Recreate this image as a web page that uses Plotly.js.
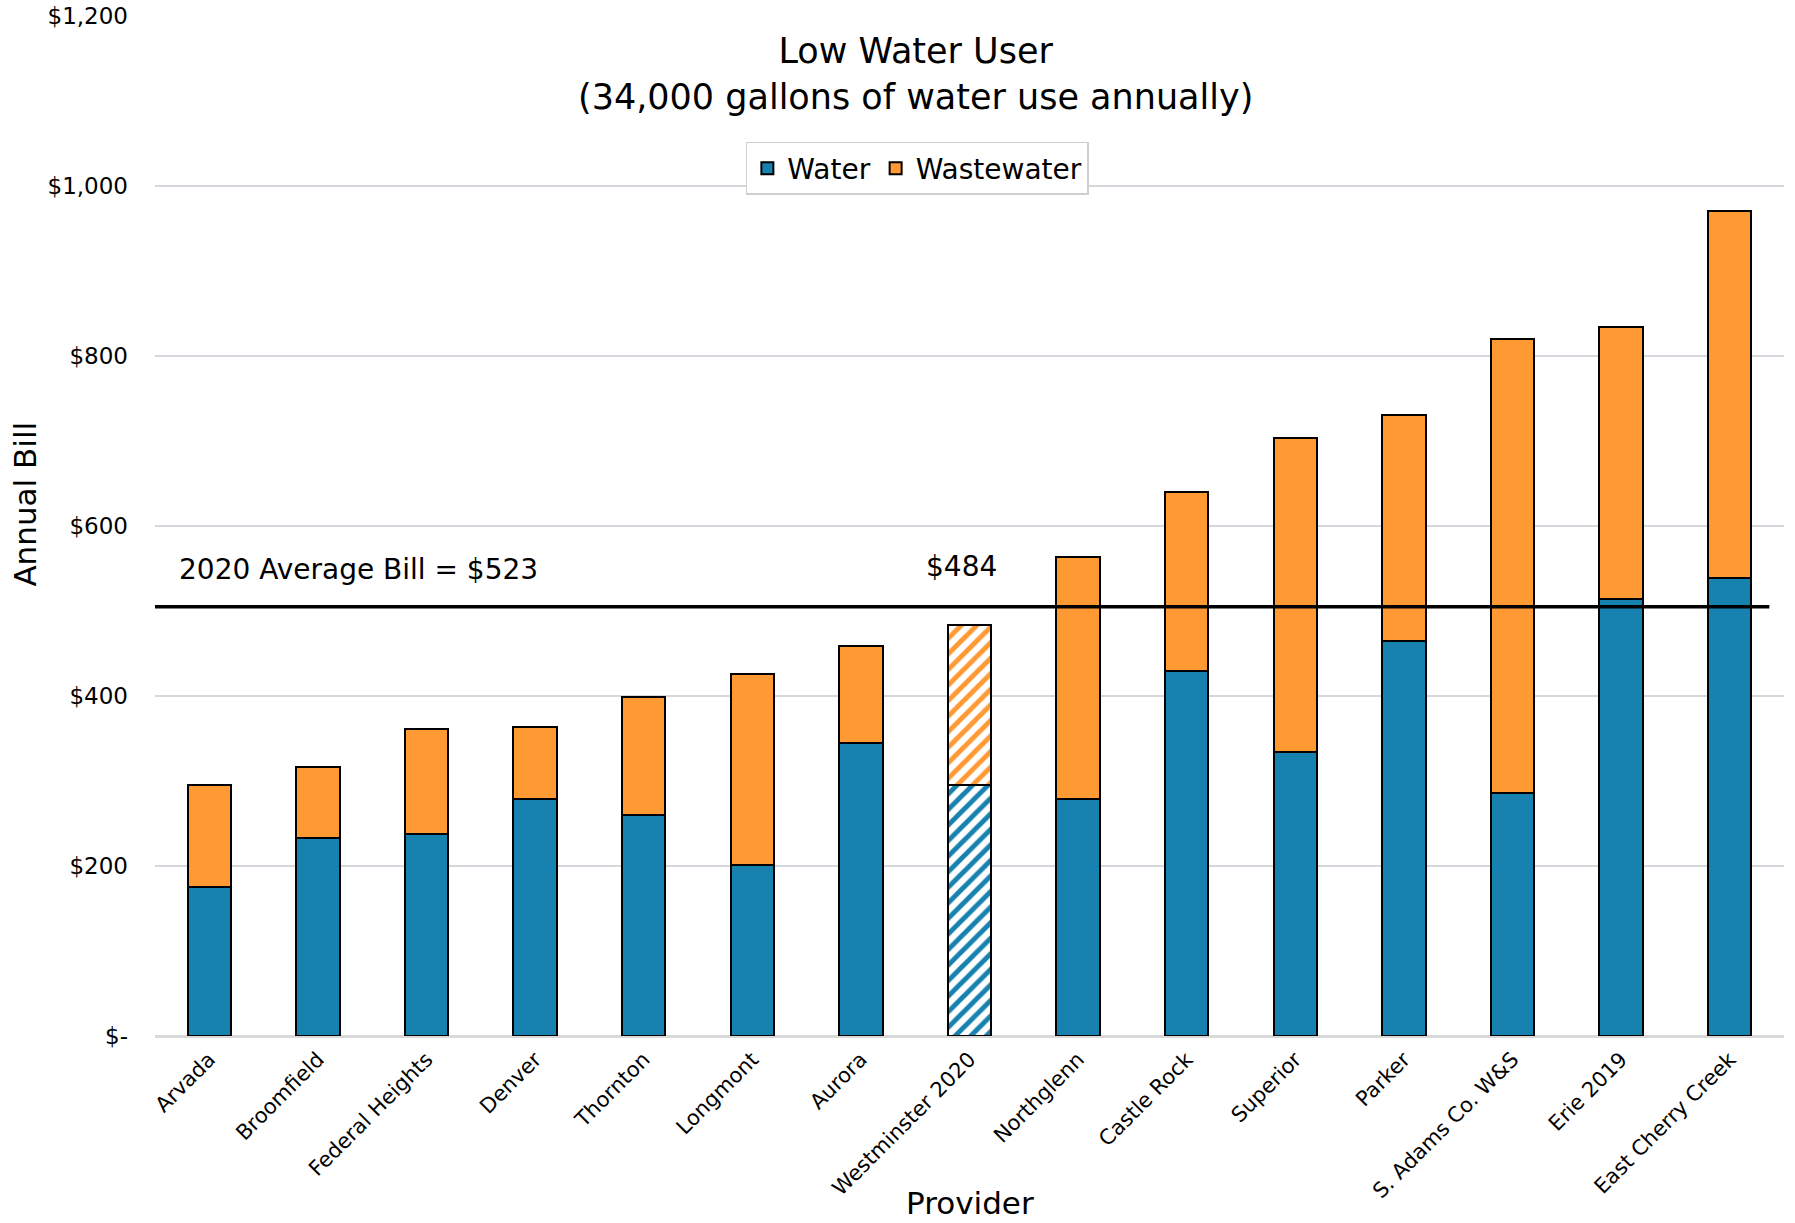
<!DOCTYPE html>
<html>
<head>
<meta charset="utf-8">
<script src="https://cdn.plot.ly/plotly-3.0.1.min.js"></script>
<style>html,body{margin:0;padding:0;background:#fff;}#chart{width:1795px;height:1223px;}</style>
</head>
<body>
<div id="chart"></div>
<script>
const categories = ['Arvada','Broomfield','Federal Heights','Denver','Thornton','Longmont','Aurora','Westminster 2020','Northglenn','Castle Rock','Superior','Parker','S. Adams Co. W&S','Erie 2019','East Cherry Creek'];
const water      = [175, 233, 238, 279, 260, 201, 345, 295, 279, 430, 334, 465, 286, 514, 539];
const wastewater = [120,  83, 123,  85, 139, 225, 114, 189, 284, 210, 370, 266, 534, 320, 432];
const hatched    = ['Westminster 2020'];
const avgLineValue = 505;
const avgLabel = '2020 Average Bill = $523';
const westLabel = '$484';
const tickVals = [0, 200, 400, 600, 800, 1000, 1200];
const tickText = ['$-', '$200', '$400', '$600', '$800', '$1,000', '$1,200'];

const FONT = 'DejaVu Sans';
const BLUE = '#1782B0';
const ORANGE = '#FF9933';

function patternFor(color) {
  return {
    shape: categories.map(c => hatched.includes(c) ? '/' : ''),
    fgcolor: color,
    bgcolor: categories.map(c => hatched.includes(c) ? '#ffffff' : color),
    size: 11,
    solidity: 0.45,
    fillmode: 'replace'
  };
}

const traces = [
  {
    type: 'bar', name: 'Water', x: categories, y: water,
    width: 0.4,
    marker: {color: BLUE, line: {color: '#000', width: 2}, pattern: patternFor(BLUE)},
    hoverinfo: 'x+y'
  },
  {
    type: 'bar', name: 'Wastewater', x: categories, y: wastewater,
    width: 0.4,
    marker: {color: ORANGE, line: {color: '#000', width: 2}, pattern: patternFor(ORANGE)},
    hoverinfo: 'x+y'
  }
];

const layout = {
  width: 1795, height: 1223,
  margin: {l: 155, r: 11, t: 16, b: 187},
  paper_bgcolor: '#fff', plot_bgcolor: '#fff',
  barmode: 'stack',
  font: {family: FONT, color: '#000'},
  showlegend: true,
  legend: {
    orientation: 'h', x: 0.468, xanchor: 'center', y: 0.8765, yanchor: 'top',
    bordercolor: '#cfcfcf', borderwidth: 1.5, bgcolor: '#fff',
    font: {family: FONT, size: 28, color: '#000'},
    itemwidth: 30, traceorder: 'normal'
  },
  xaxis: {
    type: 'category', tickangle: -45,
    tickfont: {family: FONT, size: 21, color: '#000'},
    showgrid: false, showline: false, ticks: '',
    ticklabelstandoff: 6,
    range: [-0.5, 14.5]
  },
  yaxis: {
    range: [0, 1200], tickvals: tickVals, ticktext: tickText,
    tickfont: {family: FONT, size: 23, color: '#000'},
    showgrid: true, gridcolor: '#d4d8dc', gridwidth: 2,
    zeroline: true, zerolinecolor: '#d9d9d9', zerolinewidth: 3,
    showline: false, ticks: '', ticklabelstandoff: 26
  },
  shapes: [
    {type: 'line', xref: 'paper', yref: 'y', x0: 0, x1: 0.991, y0: avgLineValue, y1: avgLineValue,
     line: {color: '#000', width: 3.5}, layer: 'above'}
  ],
  annotations: [
    {xref: 'paper', yref: 'paper', x: 0.467, y: 0.943, xanchor: 'center', yanchor: 'middle',
     text: 'Low Water User<br>(34,000 gallons of water use annually)', showarrow: false,
     font: {family: FONT, size: 35, color: '#000'}},
    {xref: 'paper', yref: 'y', x: 0.0135, y: 549, xanchor: 'left', yanchor: 'middle',
     text: avgLabel, showarrow: false, font: {family: FONT, size: 28, color: '#000'}},
    {xref: 'x', yref: 'y', x: 'Westminster 2020', y: 552, xanchor: 'center', yanchor: 'middle', xshift: -8,
     text: westLabel, showarrow: false, font: {family: FONT, size: 28, color: '#000'}},
    {xref: 'paper', yref: 'paper', x: -0.0798, y: 0.521, xanchor: 'center', yanchor: 'middle',
     text: 'Annual Bill', textangle: -90, showarrow: false, font: {family: FONT, size: 31, color: '#000'}},
    {xref: 'paper', yref: 'paper', x: 0.5, y: -0.164, xanchor: 'center', yanchor: 'middle',
     text: 'Provider', showarrow: false, font: {family: FONT, size: 31, color: '#000'}}
  ]
};

Plotly.newPlot('chart', traces, layout, {displayModeBar: false, staticPlot: true});
</script>
</body>
</html>
